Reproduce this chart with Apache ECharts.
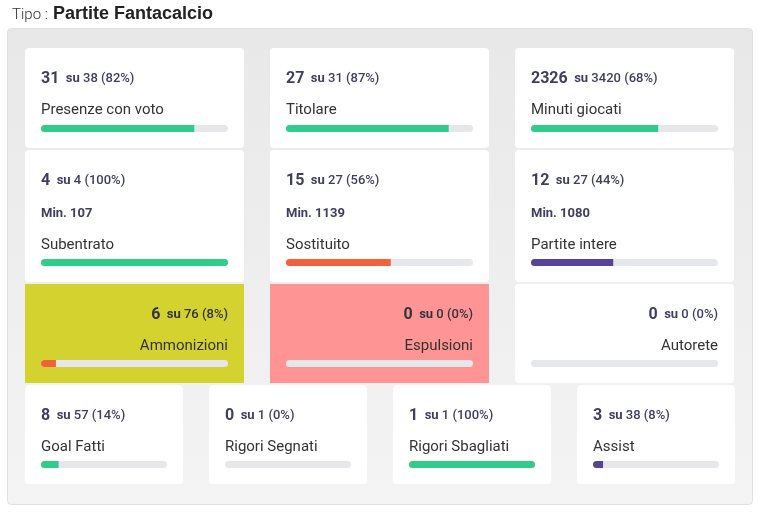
<!DOCTYPE html>
<html>
<head>
<meta charset="utf-8">
<style>
html, body { margin: 0; padding: 0; background: #fff; }
#main { width: 760px; height: 513px; }
</style>
<script src="https://cdn.jsdelivr.net/npm/echarts@6/dist/echarts.min.js"></script>
</head>
<body>
<div id="main"></div>
<script>
// valori
var labels = ['Presenze con voto', 'Titolare', 'Minuti giocati', 'Subentrato', 'Sostituito', 'Partite intere',
              'Ammonizioni', 'Espulsioni', 'Autorete', 'Goal Fatti', 'Rigori Segnati', 'Rigori Sbagliati', 'Assist'];
var values = [31, 27, 2326, 4, 15, 12, 6, 0, 0, 8, 0, 1, 3];
var totals = [38, 31, 3420, 4, 27, 27, 76, 0, 0, 57, 1, 1, 38];
var percents = [82, 87, 68, 100, 56, 44, 8, 0, 0, 14, 0, 100, 8];
var minutes = [null, null, null, 107, 1139, 1080, null, null, null, null, null, null, null];

var GREEN = '#31cb8d', RED = '#f0623e', PURPLE = '#574496';
var barColors = [GREEN, GREEN, GREEN, GREEN, RED, PURPLE, RED, RED, RED, GREEN, GREEN, GREEN, PURPLE];
var cardColors = ['#fff', '#fff', '#fff', '#fff', '#fff', '#fff', '#d4d22f', '#ff9494', '#fff', '#fff', '#fff', '#fff', '#fff'];

// geometria delle card: x, y, larghezza, altezza
var colX3 = [25, 270, 515], colX4 = [25, 209, 393, 577];
var boxes = [];
var i;
for (i = 0; i < 3; i++) boxes.push([colX3[i], 48, 219, 100]);
for (i = 0; i < 3; i++) boxes.push([colX3[i], 150, 219, 132]);
for (i = 0; i < 3; i++) boxes.push([colX3[i], 284, 219, 99]);
for (i = 0; i < 4; i++) boxes.push([colX4[i], 385, 158, 99]);

var FONT = 'Roboto, sans-serif';
var graphics = [
    { type: 'text', x: 12, y: 15, silent: true, style: { text: 'Tipo : ', verticalAlign: 'middle', font: '300 15px ' + FONT, fill: '#333' } },
    { type: 'text', x: 53, y: 14, silent: true, style: { text: 'Partite Fantacalcio', verticalAlign: 'middle', font: '700 18px "Liberation Sans", sans-serif', fill: '#222' } },
    { type: 'rect', shape: { x: 7.5, y: 28.5, width: 745, height: 476, r: 4 }, silent: true,
        style: { stroke: '#e0e0e0', lineWidth: 1, fill: new echarts.graphic.LinearGradient(0, 0, 0, 1, [
            { offset: 0, color: '#e8e8e8' }, { offset: 1, color: '#f4f4f4' }]) } }
];
var grids = [], xAxes = [], yAxes = [], series = [];

labels.forEach(function (label, n) {
    var b = boxes[n];
    var right = n >= 6 && n <= 8;              // la terza riga e' allineata a destra
    var tx = right ? b[0] + b[2] - 16 : b[0] + 16;
    var align = right ? 'right' : 'left';
    var colored = cardColors[n] !== '#fff';
    var ink = colored ? '#33333f' : '#3f3e62';

    graphics.push({ type: 'rect', shape: { x: b[0], y: b[1], width: b[2], height: b[3], r: colored ? 0 : 4 },
        style: { fill: cardColors[n] }, silent: true });
    graphics.push({ type: 'text', x: tx, y: b[1] + 31, silent: true, style: {
        text: '{v|' + values[n] + '}  {s|su} {d|' + totals[n] + ' (' + percents[n] + '%)}',
        align: align, verticalAlign: 'middle', font: '700 13px ' + FONT,
        rich: { v: { font: '700 16px ' + FONT, fill: ink },
                s: { font: '700 13px ' + FONT, fill: ink },
                d: { font: '500 13px ' + FONT, fill: ink } } } });
    if (minutes[n] !== null) {
        graphics.push({ type: 'text', x: tx, y: b[1] + 64, silent: true, style: {
            text: 'Min. ' + minutes[n], align: align, verticalAlign: 'middle',
            font: '700 13px ' + FONT, fill: ink } });
    }
    graphics.push({ type: 'text', x: tx, y: b[1] + b[3] - (n < 3 ? 38 : 37), silent: true, style: {
        text: label, align: align, verticalAlign: 'middle', font: '400 15px ' + FONT, fill: '#333' } });

    grids.push({ left: b[0] + 16, width: b[2] - 32, top: b[1] + b[3] - 23, height: 7 });
    xAxes.push({ type: 'value', gridIndex: n, min: 0, max: 100, show: false });
    yAxes.push({ type: 'category', gridIndex: n, data: [label], show: false });
    series.push({
        type: 'bar', xAxisIndex: n, yAxisIndex: n, data: [percents[n]], barWidth: 7, silent: true,
        itemStyle: { color: barColors[n], borderRadius: [4, percents[n] === 100 ? 4 : 0, percents[n] === 100 ? 4 : 0, 4] },
        showBackground: true, backgroundStyle: { color: '#e6e7eb', borderRadius: 4 }
    });
});

var myChart = echarts.init(document.getElementById('main'));
myChart.setOption({
    animation: false,
    graphic: { elements: graphics },
    grid: grids,
    xAxis: xAxes,
    yAxis: yAxes,
    series: series
});
</script>
</body>
</html>
